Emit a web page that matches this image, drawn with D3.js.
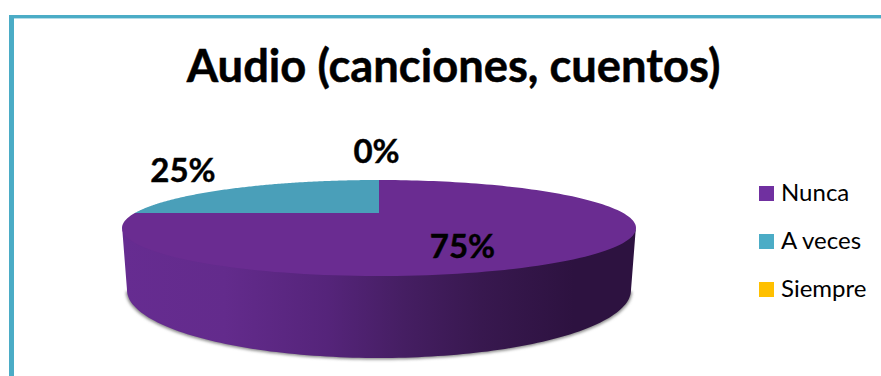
<!DOCTYPE html>
<html lang="es">
<head>
<meta charset="utf-8">
<script src="https://cdn.jsdelivr.net/npm/d3@7"></script>
<style>
  html, body { margin: 0; padding: 0; background: #fff; }
  svg { display: block; }
  text { font-family: Lato, "Open Sans", sans-serif; fill: #000; }
</style>
</head>
<body>
<svg id="chart" width="881" height="376"></svg>
<script>
// Chart content
const chartTitle = "Audio (canciones, cuentos)";
const categories = ["Nunca", "A veces", "Siempre"];
const shares = [75, 25, 0];
const sliceColors = ["#6a2c91", "#4a9fb9", "#ffc000"];
const legendColors = ["#7030a0", "#4bacc6", "#ffc000"];

const svg = d3.select("#chart");
const width = 881, height = 376;

// Frame: a top and a left rule only
svg.append("rect").attr("x", 9).attr("y", 15).attr("width", width - 9).attr("height", 3).attr("fill", "#4bacc6");
svg.append("rect").attr("x", 9).attr("y", 15).attr("width", 5).attr("height", height - 15).attr("fill", "#4bacc6");
svg.append("rect").attr("x", 14).attr("y", 18).attr("width", width - 14).attr("height", 1).attr("fill", "#b5dde8");

// Title
svg.append("text").attr("x", 453.5).attr("y", 82)
  .attr("text-anchor", "middle").attr("font-size", 45.3).attr("font-weight", 700)
  .attr("stroke", "#000").attr("stroke-width", 0.5)
  .text(chartTitle);

// Tilted disc geometry. Rims are ellipses; the perspective term k moves
// the pie's hub above the centre of the top ellipse.
const topRim = { cx: 379, cy: 228, rx: 257, ry: 48 };
const bottomRim = { cx: 379, cy: 290, rx: 252, ry: 68 };
const k = -15 / 48;

// Projects an angle (0 = up, clockwise) and a radius fraction onto the top face.
function project(angle, r = 1, rim = topRim) {
  const u = r * Math.sin(angle), v = -r * Math.cos(angle);
  const w = 1 + k * v;
  return [
    rim.cx + rim.rx * Math.sqrt(1 - k * k) * u / w,
    rim.cy + rim.ry * (v + k) / w
  ];
}

function rimPoints(rim, from, to, n = 120) {
  return d3.range(n + 1).map(i => {
    const t = from + (to - from) * i / n;
    return [rim.cx + rim.rx * Math.cos(t), rim.cy + rim.ry * Math.sin(t)];
  });
}

const line = d3.line();
const defs = svg.append("defs");

// Side wall shading, dark toward the right
const sideGrad = defs.append("linearGradient").attr("id", "side")
  .attr("gradientUnits", "userSpaceOnUse")
  .attr("x1", topRim.cx - topRim.rx).attr("x2", topRim.cx + topRim.rx).attr("y1", 0).attr("y2", 0);
[[0, "#662c91"], [0.2, "#632b8c"], [0.4, "#55247a"], [0.55, "#451e62"], [0.7, "#38184f"], [0.88, "#2d1240"], [1, "#2d1240"]]
  .forEach(([o, c]) => sideGrad.append("stop").attr("offset", o).attr("stop-color", c));

defs.append("filter").attr("id", "soft").attr("x", "-5%").attr("y", "-5%").attr("width", "110%").attr("height", "115%")
  .append("feGaussianBlur").attr("stdDeviation", 1.6);

// Drop shadow under the disc
svg.append("path")
  .attr("d", line(rimPoints({ ...bottomRim, cy: bottomRim.cy + 1.5, rx: bottomRim.rx + 1 }, 0, Math.PI)) + "Z")
  .attr("fill", "#8a8a8a").attr("filter", "url(#soft)");

// Side wall, tucked slightly under the top face so no seam shows
const wallTop = { ...topRim, cy: topRim.cy - 2 };
const wallPoints = rimPoints(wallTop, 0, Math.PI).concat(rimPoints(bottomRim, Math.PI, 0));
svg.append("path").attr("d", line(wallPoints) + "Z").attr("fill", "url(#side)");

// Top face slices
const pie = d3.pie().value(d => d).sort(null);
const slices = pie(shares);
svg.append("g").selectAll("path").data(slices).join("path")
  .attr("d", d => {
    if (d.endAngle - d.startAngle === 0) return null;
    const n = 160;
    const pts = [project(0, 0)];
    for (let i = 0; i <= n; i++) {
      pts.push(project(d.startAngle + (d.endAngle - d.startAngle) * i / n));
    }
    return line(pts) + "Z";
  })
  .attr("fill", (d, i) => sliceColors[i]);

// Value labels, placed beside their slices
const labelSpots = [[462.5, 258], [183, 182], [376.5, 163]];
svg.append("g").selectAll("text").data(shares).join("text")
  .attr("x", (d, i) => labelSpots[i][0]).attr("y", (d, i) => labelSpots[i][1])
  .attr("text-anchor", "middle").attr("font-size", 33).attr("font-weight", 700)
  .attr("stroke", "#000").attr("stroke-width", 0.4)
  .text(d => d + "%");

// Legend
const legendY = d3.scalePoint().domain(categories).range([186, 282]);
const legend = svg.append("g").selectAll("g").data(categories).join("g")
  .attr("transform", d => `translate(759,${legendY(d)})`);
legend.append("rect").attr("width", 15).attr("height", 15).attr("fill", (d, i) => legendColors[i]);
legend.append("text").attr("x", 22).attr("y", 15).attr("font-size", 24).text(d => d);
</script>
</body>
</html>
